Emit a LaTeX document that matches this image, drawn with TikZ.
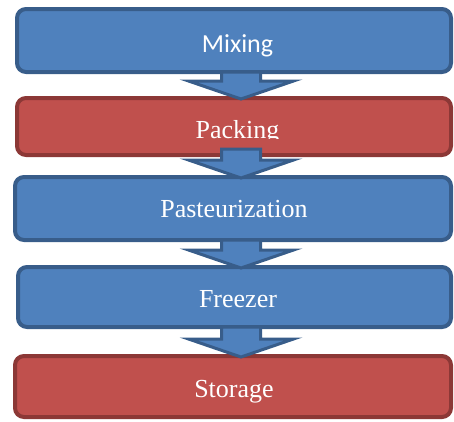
\documentclass[tikz,border=0pt]{standalone}
\usepackage{fontspec}
\setmainfont{Liberation Serif}
\newfontfamily\calfont{Carlito}
\usetikzlibrary{calc}
\definecolor{bfill}{HTML}{4F81BD}
\definecolor{bdraw}{HTML}{385D8A}
\definecolor{rfill}{HTML}{C0504D}
\definecolor{rdraw}{HTML}{8C3836}
\tikzset{
  box/.style={draw, line width=4pt, rounded corners=9pt, inner sep=0pt},
  bluebox/.style={box, fill=bfill, draw=bdraw},
  redbox/.style={box, fill=rfill, draw=rdraw},
  lbl/.style={anchor=base, text=white, font=\fontsize{26}{30}\selectfont, inner sep=0pt},
  blockarrow/.style={fill=bfill, draw=bdraw, line width=3pt, line join=miter},
}
\newcommand{\blockarr}[3]{%
  \coordinate (s) at ($(ax |- #1.south)+(0,-#3)$);
  \coordinate (t) at ($(ax |- #2.north)+(0,3)$);
  \coordinate (h) at ($(t)+(0,-18)$);
  \draw[blockarrow] ($(s)+(-19.5,0)$) -- ($(h)+(-19.5,0)$) -- ($(h)+(-52.5,0)$) -- (t)
    -- ($(h)+(52.5,0)$) -- ($(h)+(19.5,0)$) -- ($(s)+(19.5,0)$) -- cycle;}
\begin{document}
\begin{tikzpicture}[x=1pt,y=-1pt]
\useasboundingbox (0,0) rectangle (454,421);
\coordinate (ax) at (241,0);
\node[bluebox, minimum width=434pt, minimum height=63pt] (b1) at (234,40.5) {};
\node[redbox,  minimum width=434pt, minimum height=57pt] (b2) at (234,126.5) {};
\node[bluebox, minimum width=436pt, minimum height=63pt] (b3) at (233,208.5) {};
\node[bluebox, minimum width=433pt, minimum height=60pt] (b4) at (234.5,297) {};
\node[redbox,  minimum width=436pt, minimum height=61pt] (b5) at (233,386.5) {};
\blockarr{b1}{b2}{2}
\blockarr{b2}{b3}{8}
\blockarr{b3}{b4}{2}
\blockarr{b4}{b5}{2}
\node[lbl, font=\calfont\fontsize{26}{30}\selectfont] (t1) at (237.5,52) {Mixing};
\begin{scope}
  \clip (0,0) rectangle (454,138);
  \node[lbl] (t2) at (237.5,138) {Packing};
\end{scope}
\node[lbl] (t3) at (234,217) {Pasteurization};
\node[lbl] (t4) at (238,307) {Freezer};
\node[lbl] (t5) at (234,397) {Storage};
\end{tikzpicture}
\end{document}
